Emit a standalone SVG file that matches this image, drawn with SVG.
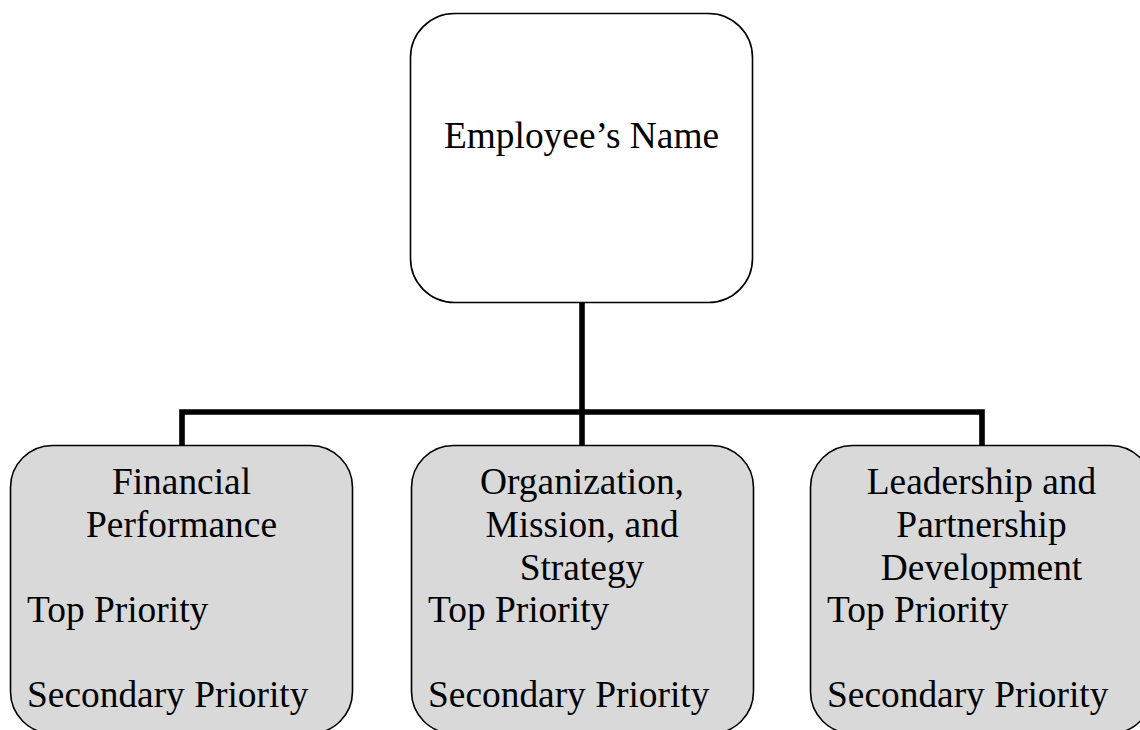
<svg xmlns="http://www.w3.org/2000/svg" width="1140" height="730" viewBox="0 0 1140 730">
  <style>
    .box { stroke: #000; stroke-width: 1.6; }
    .root { fill: #ffffff; }
    .area { fill: #d9d9d9; }
    .label { font-family: "Liberation Serif", "Times New Roman", serif; font-size: 37.4px; fill: #000; }
    .mid { text-anchor: middle; }
    .wire { fill: none; stroke: #000; stroke-width: 5.6; stroke-linecap: butt; stroke-linejoin: miter; }
  </style>
  <rect width="1140" height="730" fill="#ffffff"/>

  <!-- tree connectors -->
  <g id="connectors">
    <path class="wire" d="M582 302 V412"/>
    <path class="wire" d="M182 445 V412 H982 V445"/>
    <path class="wire" d="M582 412 V445"/>
  </g>

  <!-- root node -->
  <g id="employee">
    <rect class="box root" x="410.5" y="13.5" width="342" height="289" rx="44" ry="44"/>
    <text class="label mid" x="581.5" y="148">Employee’s Name</text>
  </g>

  <!-- category nodes -->
  <g id="financial">
    <rect class="box area" x="10.5" y="445.5" width="342" height="288" rx="42" ry="42"/>
    <text class="label mid" x="181.5" y="494">Financial</text>
    <text class="label mid" x="181.5" y="537">Performance</text>
    <text class="label" x="27" y="622">Top Priority</text>
    <text class="label" x="27" y="707">Secondary Priority</text>
  </g>

  <g id="organization">
    <rect class="box area" x="411.5" y="445.5" width="342" height="288" rx="42" ry="42"/>
    <text class="label mid" x="582" y="494">Organization,</text>
    <text class="label mid" x="582" y="537">Mission, and</text>
    <text class="label mid" x="582" y="580">Strategy</text>
    <text class="label" x="428" y="622">Top Priority</text>
    <text class="label" x="428" y="707">Secondary Priority</text>
  </g>

  <g id="leadership">
    <rect class="box area" x="810.5" y="445.5" width="342" height="288" rx="42" ry="42"/>
    <text class="label mid" x="981.5" y="494">Leadership and</text>
    <text class="label mid" x="981.5" y="537">Partnership</text>
    <text class="label mid" x="981.5" y="580">Development</text>
    <text class="label" x="827" y="622">Top Priority</text>
    <text class="label" x="827" y="707">Secondary Priority</text>
  </g>
</svg>
